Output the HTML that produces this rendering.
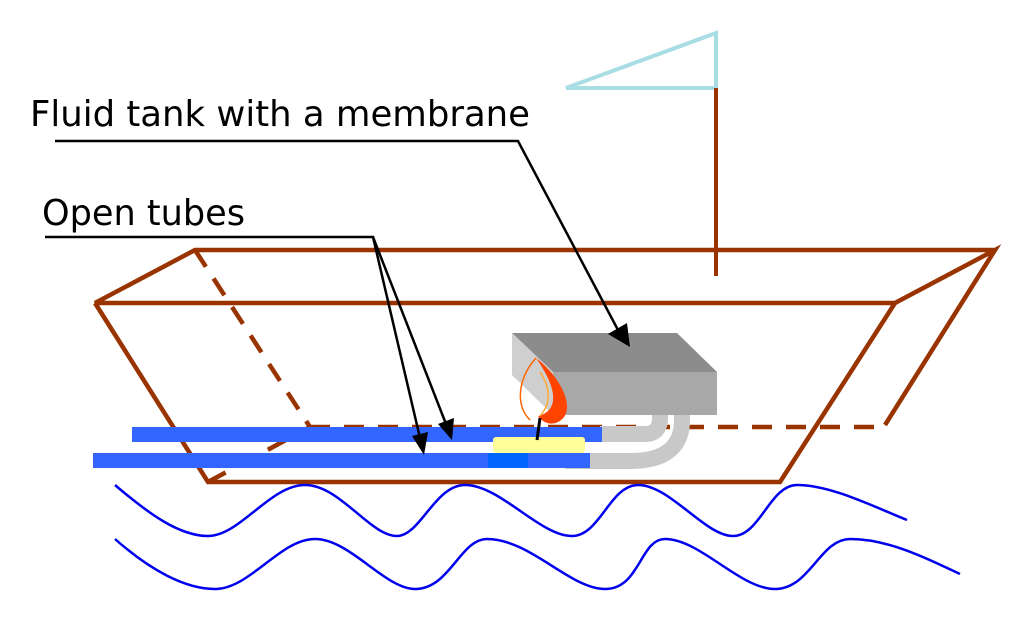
<!DOCTYPE html>
<html><head><meta charset="utf-8"><style>
html,body{margin:0;padding:0;background:#fff;}
svg{display:block}
text{font-family:"DejaVu Sans","Liberation Sans",sans-serif;}
</style></head><body>
<svg width="1024" height="628" viewBox="0 0 1024 628" xmlns="http://www.w3.org/2000/svg">
<polygon points="566,88 716,33 716,88" fill="none" stroke="#a8dde3" stroke-width="4"/>
<line x1="716" y1="88" x2="716" y2="276" stroke="#993300" stroke-width="4"/>
<g stroke="#993300" stroke-width="4.5" fill="none" stroke-linejoin="miter">
<polyline points="995,250 195,250 95,303 895,303 995,250 885,425"/>
<polyline points="95,303 208,482 780,482 895,303"/>
<g stroke-dasharray="20,14">
<line x1="195" y1="250" x2="310" y2="427"/>
<line x1="310" y1="427" x2="885" y2="427"/>
<line x1="208" y1="482" x2="310" y2="427"/>
</g>
</g>
<g stroke="#c8c8c8" stroke-width="16" fill="none">
<path d="M600,434 H645 Q660,434 660,418 V410"/>
<path d="M565,461 H630 Q682,461 682,420 V410"/>
</g>
<rect x="132" y="427" width="470" height="15" fill="#3366ff"/>
<rect x="93" y="453" width="497" height="15" fill="#3366ff"/>
<rect x="488" y="453" width="40" height="15" fill="#0066ff"/>
<rect x="493" y="437" width="92" height="16" rx="3" fill="#ffff99"/>
<polygon points="512,333 677,333 717,372 553,372" fill="#8c8c8c"/>
<polygon points="512,333 553,372 553,415 512,375" fill="#cfcfcf"/>
<rect x="553" y="372" width="164" height="43" fill="#a8a8a8"/>
<path d="M536,358 C562,378 578,412 558,422 C550,426 542,422 538,416 C555,412 562,395 536,358 Z" fill="#ff4400"/>
<path d="M536,358 C518,378 515,405 530,420" fill="none" stroke="#ff6600" stroke-width="1.5"/>
<path d="M540,372 C552,390 550,405 540,416" fill="none" stroke="#ffaa33" stroke-width="1.5"/>
<path d="M540,418 L537,440" stroke="#000" stroke-width="3"/>
<g stroke="#0000ee" stroke-width="2.5" fill="none">
<path d="M115,485 C150,515 180,536 208,536 C240,536 270,485 305,485 C340,485 370,536 397,536 C420,536 435,485 465,485 C500,485 540,536 572,536 C600,536 610,485 638,485 C670,485 705,536 733,536 C760,536 770,485 797,485 C830,485 870,505 907,520"/>
<path d="M115,539 C150,570 185,589 215,589 C250,589 280,539 315,539 C350,539 385,589 415,589 C450,589 460,539 487,539 C530,539 570,589 605,589 C640,589 640,539 665,539 C700,539 740,589 775,589 C810,589 820,539 850,539 C890,539 930,560 960,574"/>
</g>
<text x="30" y="126" font-size="36" fill="#000" textLength="500" lengthAdjust="spacingAndGlyphs">Fluid tank with a membrane</text>
<text x="42" y="225" font-size="36" fill="#000" textLength="203" lengthAdjust="spacingAndGlyphs">Open tubes</text>
<g stroke="#000" stroke-width="2.5" fill="none">
<polyline points="55,141 518,141 618,330"/>
<polyline points="45,237 373,237 420,438"/>
<line x1="373" y1="237" x2="446" y2="424"/>
</g>
<polygon points="630,347 608,334 627,323" fill="#000"/>
<polygon points="424,455 412,436 428,432" fill="#000"/>
<polygon points="452,440 438,424 454,418" fill="#000"/>
</svg>
</body></html>
